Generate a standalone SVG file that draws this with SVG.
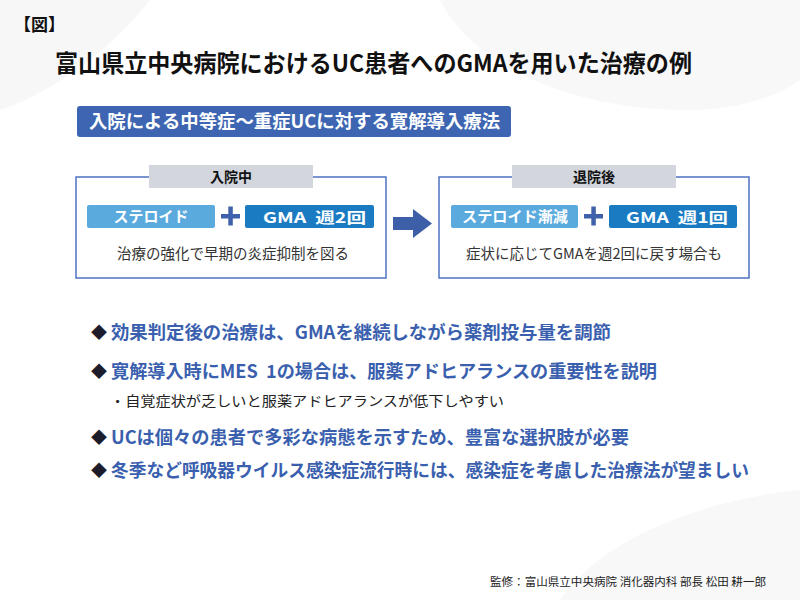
<svg xmlns="http://www.w3.org/2000/svg" width="800" height="600" viewBox="0 0 800 600">
<style>
text{font-family:"Noto Sans CJK JP","Noto Sans",sans-serif;}
.b{font-weight:700;}
.tab{fill:#d3d6dd;}
.box{fill:#fff;stroke:#4d72c2;stroke-width:1.5;}
.lb{fill:#5aaade;}
.db{fill:#1b7bc2;}
.w{fill:#fff;font-weight:700;font-size:15px;}
.plus{fill:#3f61ab;}
.note{fill:#333;font-size:14.5px;}
.bul{fill:#3a5fae;font-weight:700;font-size:18px;}
.dia{fill:#1c1c2a;font-size:16px;}
</style>
<rect width="800" height="600" fill="#fff"/>
<g id="background" fill="#f3f3f5">
<path d="M0,0 L150,0 C120,40 60,90 0,110 Z" opacity="0.7"/>
<path d="M440,0 C470,60 560,110 690,110 C740,110 780,95 800,80 L800,0 Z" opacity="0.6"/>
<path d="M560,600 C600,540 700,500 800,490 L800,600 Z" opacity="0.6"/>
</g>
<text id="fig" class="b" x="14" y="31" font-size="17" fill="#111">【図】</text>
<text id="title" class="b" x="55" y="72" font-size="24" fill="#111" textLength="637" lengthAdjust="spacingAndGlyphs">富山県立中央病院におけるUC患者へのGMAを用いた治療の例</text>
<g id="banner">
<rect x="77" y="106" width="434" height="31" rx="3" fill="#3d65b1"/>
<text class="b" x="89" y="128" font-size="18" fill="#fff" textLength="411" lengthAdjust="spacingAndGlyphs">入院による中等症〜重症UCに対する寛解導入療法</text>
</g>
<g id="left">
<rect class="box" x="76" y="177" width="310" height="101"/>
<rect class="tab" x="149" y="165" width="164" height="23"/>
<text class="b" x="231" y="182" font-size="14" fill="#111" text-anchor="middle">入院中</text>
<rect class="lb" x="87" y="205" width="128" height="23" rx="2"/>
<text class="w" x="151" y="222" text-anchor="middle">ステロイド</text>
<rect class="plus" x="221" y="214" width="19" height="4.5"/>
<rect class="plus" x="228.3" y="206.5" width="4.5" height="19"/>
<rect class="db" x="245" y="205" width="129" height="23" rx="2"/>
<text class="w" x="263" y="223" font-size="17" textLength="103" lengthAdjust="spacingAndGlyphs">GMA&#160; 週2回</text>
<text class="note" x="233" y="259" text-anchor="middle">治療の強化で早期の炎症抑制を図る</text>
</g>
<g id="connectors">
<path d="M393,217 L413,217 L413,209 L432,223.5 L413,238 L413,230 L393,230 Z" fill="#3d5fa8"/>
</g>
<g id="right">
<rect class="box" x="439" y="177" width="310" height="101"/>
<rect class="tab" x="512" y="165" width="164" height="23"/>
<text class="b" x="594" y="182" font-size="14" fill="#111" text-anchor="middle">退院後</text>
<rect class="lb" x="451" y="205" width="127" height="23" rx="2"/>
<text class="w" x="462" y="222" textLength="106" lengthAdjust="spacingAndGlyphs">ステロイド漸減</text>
<rect class="plus" x="584" y="214" width="19" height="4.5"/>
<rect class="plus" x="591.3" y="206.5" width="4.5" height="19"/>
<rect class="db" x="609" y="205" width="128" height="23" rx="2"/>
<text class="w" x="626" y="223" font-size="17" textLength="102" lengthAdjust="spacingAndGlyphs">GMA&#160; 週1回</text>
<text class="note" x="594" y="259" text-anchor="middle">症状に応じてGMAを週2回に戻す場合も</text>
</g>
<g id="bullets">
<text class="dia" x="91" y="338">◆</text>
<text class="bul" x="111" y="339" textLength="500" lengthAdjust="spacingAndGlyphs">効果判定後の治療は、GMAを継続しながら薬剤投与量を調節</text>
<text class="dia" x="91" y="377">◆</text>
<text class="bul" x="111" y="378" textLength="546" lengthAdjust="spacingAndGlyphs">寛解導入時にMES&#160; 1の場合は、服薬アドヒアランスの重要性を説明</text>
<text x="110" y="406" font-size="13.5" fill="#222" textLength="394" lengthAdjust="spacingAndGlyphs">・自覚症状が乏しいと服薬アドヒアランスが低下しやすい</text>
<text class="dia" x="91" y="443">◆</text>
<text class="bul" x="111" y="444" textLength="518" lengthAdjust="spacingAndGlyphs">UCは個々の患者で多彩な病態を示すため、豊富な選択肢が必要</text>
<text class="dia" x="91" y="476">◆</text>
<text class="bul" x="111" y="477" textLength="638" lengthAdjust="spacingAndGlyphs">冬季など呼吸器ウイルス感染症流行時には、感染症を考慮した治療法が望ましい</text>
</g>
<text id="credit" x="490" y="586" font-size="11" fill="#222" textLength="276" lengthAdjust="spacingAndGlyphs">監修：富山県立中央病院 消化器内科 部長 松田 耕一郎</text>
</svg>
